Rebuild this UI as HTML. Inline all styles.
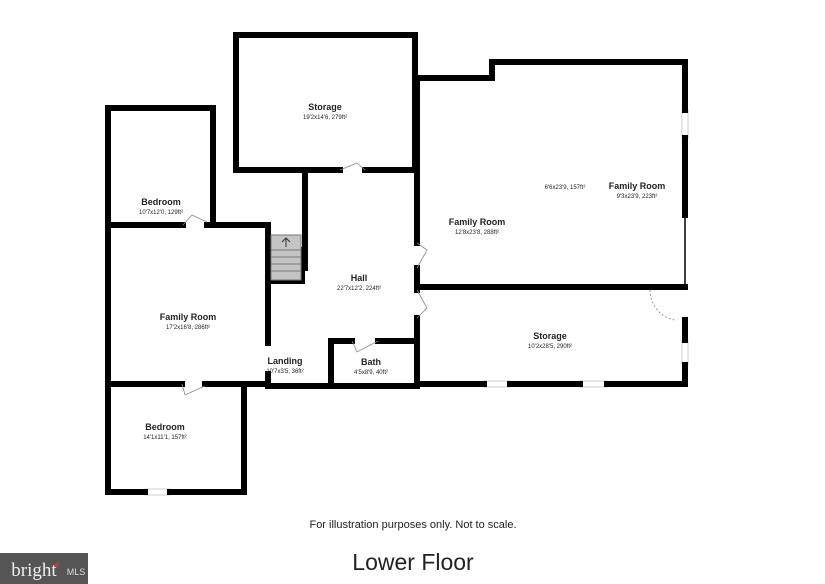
<!DOCTYPE html>
<html><head><meta charset="utf-8"><style>
body{margin:0;background:#fff;width:825px;height:584px;overflow:hidden}
svg{display:block}
text{font-family:"Liberation Sans",sans-serif;fill:#222;text-anchor:middle}
.n{font-size:9px;font-weight:bold}
.d{font-size:6px}
</style></head><body>
<svg width="825" height="584" viewBox="0 0 825 584" xmlns="http://www.w3.org/2000/svg">
<!-- window fills -->
<g fill="#fff" stroke="#ccc" stroke-width="1">
<rect x="682" y="110" width="6" height="28"/>
<rect x="682" y="340" width="6" height="25"/>
<rect x="484" y="381" width="26" height="6"/>
<rect x="580" y="381" width="27" height="6"/>
<rect x="145" y="489" width="25" height="6"/>
</g>
<g stroke="#000" stroke-width="6" fill="none" stroke-linecap="square">
<path d="M236 170 V35 H415 V170 H365"/>
<path d="M236 170 H340"/>
<path d="M417 78 H492 V62 H685 V110"/>
<path d="M685 138 V215"/>
<path d="M417 78 V243"/>
<path d="M417 268 V290"/>
<path d="M417 318 V384"/>
<path d="M417 287 H685"/>
<path d="M685 320 V340 M685 365 V384"/>
<path d="M417 384 H484 M510 384 H580 M607 384 H685"/>
<path d="M305 173 V268"/>
<path d="M302 250 V281 H270"/>
<path d="M331 386 V341 H352 M378 341 H415"/>
<path d="M268 386 H417"/>
<path d="M268 374 V386"/>
<path d="M108 225 V108 H213 V225"/>
<path d="M108 225 H183 M207 225 H268 V343"/>
<path d="M108 225 V384 H182 M205 384 H268"/>
<path d="M108 384 V492 H145 M170 492 H244 V386"/>
</g>
<line x1="685" y1="215" x2="685" y2="285" stroke="#000" stroke-width="1.5"/>
<g stroke="#888" stroke-width="0.8" fill="none">
<path d="M340 170 L357 163 L365 170"/>
<path d="M417 243 L427 250 L417 268"/>
<path d="M417 290 L427 308 L417 318"/>
<path d="M352 341 L357 352 L378 341"/>
<path d="M183 225 L192 215 L207 222"/>
<path d="M182 384 L185 395 L205 386"/>
<path d="M650 290 A30 30 0 0 0 675 320" stroke-dasharray="2 2"/>
</g>
<rect x="271" y="235" width="30" height="45" fill="#c4c4c4" stroke="#777" stroke-width="1"/>
<g stroke="#777" stroke-width="1"><line x1="271" y1="250" x2="301" y2="250"/><line x1="271" y1="257" x2="301" y2="257"/><line x1="271" y1="264" x2="301" y2="264"/><line x1="271" y1="271" x2="301" y2="271"/></g>
<path d="M286 247 V238 M282 242 L286 238 L290 242" stroke="#333" stroke-width="1" fill="none"/>
<text class="n" x="325" y="110">Storage</text><text class="d" x="325" y="119">19'2x14'6, 279ft²</text>
<text class="n" x="161" y="205">Bedroom</text><text class="d" x="161" y="214">10'7x12'0, 129ft²</text>
<text class="n" x="188" y="320">Family Room</text><text class="d" x="188" y="329">17'2x16'8, 286ft²</text>
<text class="n" x="359" y="281">Hall</text><text class="d" x="359" y="290">22'7x12'2, 224ft²</text>
<text class="n" x="285" y="364">Landing</text><text class="d" x="285" y="373">10'7x3'5, 36ft²</text>
<text class="n" x="371" y="365">Bath</text><text class="d" x="371" y="374">4'5x8'9, 40ft²</text>
<text class="n" x="477" y="225">Family Room</text><text class="d" x="477" y="234">12'8x23'8, 288ft²</text>
<text class="d" x="565" y="189">6'6x23'9, 157ft²</text>
<text class="n" x="637" y="189">Family Room</text><text class="d" x="637" y="198">9'3x23'9, 223ft²</text>
<text class="n" x="550" y="339">Storage</text><text class="d" x="550" y="348">10'2x28'5, 290ft²</text>
<text class="n" x="165" y="430">Bedroom</text><text class="d" x="165" y="439">14'1x11'1, 157ft²</text>
<text x="413" y="528" style="font-size:11px">For illustration purposes only. Not to scale.</text>
<text x="413" y="570" style="font-size:23px">Lower Floor</text>
<rect x="0" y="553" width="88" height="31" fill="#555"/>
<text x="34" y="576" style="font-size:19px;fill:#eee;font-family:'Liberation Serif',serif">bright</text>
<circle cx="57" cy="565" r="2" fill="#c33"/>
<text x="76" y="575" style="font-size:9px;fill:#ddd">MLS</text>
</svg>
</body></html>
